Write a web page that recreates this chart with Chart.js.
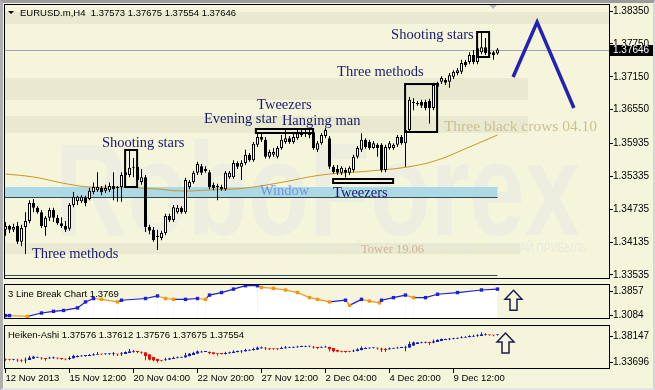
<!DOCTYPE html>
<html>
<head>
<meta charset="utf-8">
<title>EURUSD.m H4</title>
<script src="https://cdn.jsdelivr.net/npm/chart.js@4.4.1/dist/chart.umd.min.js"></script>
<style>
  html, body { margin: 0; padding: 0; background: #f5f5dc; }
  #wrap { position: relative; width: 655px; height: 390px; overflow: hidden; background: #f5f5dc; }
  #wrap canvas { position: absolute; left: 0; }
  #main { top: 0; }
  #lbreak { top: 280px; }
  #heiken { top: 324px; }
  #edge { position: absolute; inset: 0; border-top: 3px solid #9c9c9c; border-left: 3px solid #b0b0b0;
          border-right: 2px solid #d6d6d6; border-bottom: 2px solid #e4e4e4; pointer-events: none; }
</style>
</head>
<body>
<div id="wrap">
  <canvas id="main" width="655" height="281"></canvas>
  <canvas id="lbreak" width="655" height="43"></canvas>
  <canvas id="heiken" width="655" height="66"></canvas>
  <div id="edge"></div>
</div>
<script>
// ===== Data (H4 bars, oldest first)
const opens = [
  1.3436,1.3443,1.3436,1.3443,1.3414,1.3441,1.3452,1.3485,1.3476,1.3468,
  1.3441,1.3458,1.3472,1.3458,1.3448,1.3443,1.3438,1.3481,1.3488,1.3488,
  1.3494,1.3492,1.3505,1.3508,1.3512,1.3507,1.3508,1.3516,1.3512,1.3514,
  1.3536,1.3536,1.3549,1.3551,1.3523,1.3532,1.3441,1.3436,1.3425,1.3421,
  1.3430,1.3461,1.3454,1.3468,1.3476,1.3468,1.3514,1.3523,1.3540,1.3552,
  1.3547,1.3541,1.3518,1.3514,1.3514,1.3510,1.3532,1.3532,1.3558,1.3551,
  1.3558,1.3573,1.3563,1.3591,1.3605,1.3600,1.3569,1.3573,1.3569,1.3585,
  1.3596,1.3603,1.3596,1.3603,1.3609,1.3614,1.3609,1.3614,1.3582,1.3594,
  1.3607,1.3603,1.3551,1.3547,1.3540,1.3545,1.3540,1.3545,1.3569,1.3582,
  1.3600,1.3596,1.3585,1.3591,1.3591,1.3545,1.3585,1.3585,1.3591,1.3605,
  1.3594,1.3618,1.3667,1.3665,1.3669,1.3669,1.3671,1.3658,1.3704,1.3706,
  1.3709,1.3706,1.3715,1.3722,1.3724,1.3742,1.3742,1.3755,1.3742,1.3760,
  1.3769,1.3760,1.3760,1.37573
];
const highs = [
  1.3450,1.3445,1.3447,1.3450,1.3445,1.3468,1.3490,1.3492,1.3479,1.3472,
  1.3461,1.3476,1.3476,1.3463,1.3459,1.3452,1.3485,1.3505,1.3498,1.3499,
  1.3498,1.3512,1.3522,1.3541,1.3516,1.3518,1.3522,1.3541,1.3516,1.3541,
  1.3545,1.3580,1.3567,1.3554,1.3547,1.3536,1.3445,1.3441,1.3436,1.3434,
  1.3465,1.3465,1.3481,1.3481,1.3479,1.3531,1.3527,1.3543,1.3560,1.3556,
  1.3552,1.3545,1.3522,1.3520,1.3518,1.3543,1.3543,1.3563,1.3561,1.3563,
  1.3582,1.3576,1.3596,1.3611,1.3612,1.3605,1.3582,1.3585,1.3589,1.3609,
  1.3618,1.3607,1.3611,1.3620,1.3620,1.3620,1.3618,1.3618,1.3598,1.3612,
  1.3622,1.3607,1.3554,1.3554,1.3552,1.3549,1.3552,1.3573,1.3589,1.3612,
  1.3603,1.3600,1.3598,1.3594,1.3594,1.3591,1.3598,1.3594,1.3609,1.3609,
  1.3622,1.3678,1.3676,1.3671,1.3673,1.3673,1.3675,1.3704,1.3706,1.3716,
  1.3713,1.3722,1.3727,1.3731,1.3746,1.3746,1.3760,1.3764,1.3771,1.3798,
  1.3786,1.3762,1.3762,1.37675
];
const lows = [
  1.3425,1.3430,1.3432,1.3410,1.3406,1.3392,1.3448,1.3468,1.3465,1.3439,
  1.3425,1.3452,1.3450,1.3445,1.3439,1.3432,1.3434,1.3477,1.3481,1.3485,
  1.3479,1.3490,1.3501,1.3505,1.3499,1.3503,1.3505,1.3490,1.3487,1.3487,
  1.3532,1.3532,1.3532,1.3523,1.3518,1.3432,1.3428,1.3414,1.3399,1.3417,
  1.3426,1.3450,1.3450,1.3465,1.3465,1.3465,1.3510,1.3520,1.3536,1.3536,
  1.3540,1.3510,1.3508,1.3490,1.3507,1.3507,1.3529,1.3529,1.3547,1.3527,
  1.3554,1.3560,1.3560,1.3587,1.3596,1.3566,1.3566,1.3569,1.3566,1.3582,
  1.3593,1.3593,1.3593,1.3600,1.3605,1.3605,1.3603,1.3582,1.3578,1.3591,
  1.3603,1.3547,1.3538,1.3536,1.3536,1.3531,1.3536,1.3541,1.3566,1.3578,
  1.3584,1.3582,1.3584,1.3569,1.3541,1.3541,1.3582,1.3582,1.3587,1.3591,
  1.3551,1.3614,1.3654,1.3662,1.3658,1.3654,1.3630,1.3654,1.3693,1.3702,
  1.3700,1.3695,1.3711,1.3718,1.3720,1.3733,1.3738,1.3738,1.3738,1.3756,
  1.3755,1.3753,1.3746,1.37554
];
const closes = [
  1.3443,1.3436,1.3441,1.3414,1.3439,1.3452,1.3485,1.3476,1.3468,1.3443,
  1.3458,1.3472,1.3458,1.3448,1.3443,1.3436,1.3481,1.3496,1.3496,1.3496,
  1.3485,1.3507,1.3514,1.3514,1.3505,1.3512,1.3516,1.3510,1.3512,1.3536,
  1.3541,1.3549,1.3551,1.3527,1.3532,1.3441,1.3434,1.3417,1.3423,1.3430,
  1.3461,1.3454,1.3477,1.3476,1.3468,1.3527,1.3523,1.3540,1.3556,1.3540,
  1.3543,1.3514,1.3512,1.3514,1.3510,1.3540,1.3540,1.3558,1.3551,1.3558,
  1.3573,1.3563,1.3593,1.3605,1.3600,1.3569,1.3578,1.3578,1.3585,1.3600,
  1.3603,1.3596,1.3605,1.3612,1.3614,1.3611,1.3614,1.3585,1.3594,1.3609,
  1.3618,1.3551,1.3541,1.3540,1.3549,1.3540,1.3549,1.3569,1.3585,1.3600,
  1.3587,1.3585,1.3594,1.3585,1.3545,1.3587,1.3594,1.3591,1.3605,1.3594,
  1.3618,1.3673,1.3669,1.3667,1.3662,1.3658,1.3658,1.3700,1.3697,1.3713,
  1.3704,1.3718,1.3724,1.3727,1.3740,1.3736,1.3755,1.3742,1.3767,1.3769,
  1.3758,1.3756,1.3755,1.37646
];

// price axis + time axis
const priceTicks = [1.38350, 1.37750, 1.37150, 1.36550, 1.35935, 1.35335, 1.34735, 1.34135, 1.33535];
const dateTickIdx = [0, 16, 32, 48, 64, 80, 96, 112];
const dateTickLabels = ['12 Nov 2013', '15 Nov 12:00', '20 Nov 04:00', '22 Nov 20:00',
                        '27 Nov 12:00', '2 Dec 04:00', '4 Dec 20:00', '9 Dec 12:00'];

// moving average (sampled along the curve)
const maIdx = [0, 7, 15.5, 21, 28, 38, 44, 50.5, 57, 62, 69.5, 79, 91, 100.5, 108, 116, 123];
const maVal = [1.35377, 1.35322, 1.35195, 1.35140, 1.35140, 1.35103, 1.35067, 1.35085, 1.35103,
               1.35140, 1.35231, 1.35359, 1.35432, 1.35505, 1.35632, 1.35870, 1.36089];

// forecast zigzag
const zigIdx = [126.9, 132.9, 142.1];
const zigVal = [1.37146, 1.38149, 1.36581];

// 3 Line Break sub-window
const lbIdx = [0, 1, 5.5, 9, 12, 14.5, 18, 20, 22, 24, 28, 29, 35, 38, 40, 42, 45, 48, 50, 51,
               54, 57, 60, 63, 64, 67, 70, 73, 76, 78, 81, 85, 86, 89, 91, 93.5, 94, 97, 100, 102,
               105, 108, 113, 119, 123];
const lbVal = [1.3084, 1.3084, 1.3057, 1.3167, 1.3222, 1.3250, 1.3332, 1.3526, 1.3636, 1.3609,
               1.3526, 1.3581, 1.3636, 1.3719, 1.3636, 1.3609, 1.3609, 1.3636, 1.3609, 1.3747,
               1.3829, 1.3940, 1.4050, 1.4050, 1.3995, 1.3967, 1.3912, 1.3829, 1.3664, 1.3609,
               1.3526, 1.3581, 1.3415, 1.3609, 1.3553, 1.3498, 1.3581, 1.3664, 1.3747, 1.3664,
               1.3664, 1.3774, 1.3829, 1.3912, 1.3940];
const lbTicks = [1.3857, 1.3084];
const haTicks = [1.38147, 1.33696];

// ===== Annotations (bar index / price)
const shadeZones = [[1.38332, 1.38113, 151], [1.37128, 1.36726, 130.6],
                    [1.36435, 1.36125, 130.6], [1.34118, 1.33917, 128.6]];
const windowZone = [1.35140, 1.34958, 123];
const floorLines = [1.33526, 1.33489];
const patternBoxes = [
  [29.9, 32.9, 1.35815, 1.35140],
  [62.6, 76.9, 1.36198, 1.36125],
  [81.9, 96.9, 1.35286, 1.35213],
  [99.9, 107.9, 1.37018, 1.36143],
  [117.9, 120.9, 1.37967, 1.37511]
];
const notes = [
  ['Shooting stars', 24.1, 1.35869, 'pattern'],
  ['Three methods', 6.6, 1.33845, 'pattern'],
  ['Evening star', 49.6, 1.36307, 'pattern'],
  ['Tweezers', 62.9, 1.36562, 'pattern'],
  ['Hanging man', 69.1, 1.36271, 'pattern'],
  ['Three methods', 82.9, 1.37164, 'pattern'],
  ['Shooting stars', 96.4, 1.37839, 'pattern'],
  ['Tweezers', 81.9, 1.34957, 'pattern'],
  ['Window', 63.6, 1.34994, 'window'],
  ['Three black crows 04.10', 109.6, 1.36161, 'old'],
  ['Tower 19.06', 88.9, 1.33936, 'tower']
];

// ===== Look
const X_MIN = -0.375, X_MAX = 151.125;
const UI_FONT = '"Liberation Sans", Arial, sans-serif';
const NOTE_FONT = '"Liberation Serif", "Times New Roman", serif';
const noteStyle = {
  pattern: ['14.5px ' + NOTE_FONT, '#191970'],
  window:  ['14.5px ' + NOTE_FONT, '#6f93e0'],
  old:     ['15.5px ' + NOTE_FONT, '#cbc190'],
  tower:   ['12.5px ' + NOTE_FONT, '#d2b494']
};
const LB_UP = '#1e1ed2', LB_DOWN = '#f0961e';
const HA_UP = '#1818d0', HA_DOWN = '#ff0000';
const last = closes.length - 1;
const bars = closes.map((_, i) => i);

Chart.defaults.font.family = UI_FONT;
Chart.defaults.font.size = 10;
Chart.defaults.color = '#000';

// Heiken-Ashi indicator from the bars above
function heikenAshi() {
  const o = [], h = [], l = [], c = [];
  bars.forEach(i => {
    c[i] = (opens[i] + highs[i] + lows[i] + closes[i]) / 4;
    o[i] = i === 0 ? (opens[0] + closes[0]) / 2 : (o[i - 1] + c[i - 1]) / 2;
    h[i] = Math.max(highs[i], o[i], c[i]);
    l[i] = Math.min(lows[i], o[i], c[i]);
  });
  return { o, h, l, c };
}

function candleDatasets(o, h, l, c, upFill, downFill, upLine, downLine) {
  const up = i => c[i] >= o[i];
  return [
    { type: 'bar', data: bars.map(i => ({ x: i, y: [l[i], h[i]] })),
      backgroundColor: bars.map(i => up(i) ? upLine : downLine),
      barThickness: 1, grouped: false, inflateAmount: 0, order: 3 },
    { type: 'bar', data: bars.map(i => ({ x: i, y: [o[i], c[i]] })),
      backgroundColor: bars.map(i => up(i) ? upFill : downFill),
      borderColor: bars.map(i => up(i) ? upLine : downLine),
      borderWidth: 1, borderSkipped: false, minBarLength: 1,
      barThickness: 3, grouped: false, inflateAmount: 0, order: 2 }
  ];
}

function priceAxis(min, max, ticks, digits, extra) {
  return Object.assign({
    position: 'right', min, max,
    afterFit: s => { s.width = 45; s.paddingTop = 0; s.paddingBottom = 0; },
    afterBuildTicks: s => { s.ticks = ticks.map(v => ({ value: v })); },
    ticks: { callback: v => v.toFixed(digits), padding: 0, autoSkip: false, font: { size: 10 } },
    grid: { drawOnChartArea: false, tickLength: 3, color: '#000' },
    border: { display: false }
  }, extra || {});
}

function hiddenX() {
  return { type: 'linear', min: X_MIN, max: X_MAX, offset: false, display: false };
}

const frame = {
  id: 'frame',
  afterDraw(chart) {
    const { ctx, chartArea: a } = chart;
    ctx.save();
    ctx.strokeStyle = '#000';
    ctx.lineWidth = 1;
    ctx.strokeRect(a.left + 0.5, a.top + 0.5, a.right - a.left - 1, a.bottom - a.top - 1);
    ctx.restore();
  }
};

function upArrow(ctx, cx, cy) {
  ctx.save();
  ctx.beginPath();
  ctx.moveTo(cx, cy - 10);
  ctx.lineTo(cx + 8.5, cy - 1);
  ctx.lineTo(cx + 3.5, cy - 1);
  ctx.lineTo(cx + 3.5, cy + 10);
  ctx.lineTo(cx - 3.5, cy + 10);
  ctx.lineTo(cx - 3.5, cy - 1);
  ctx.lineTo(cx - 8.5, cy - 1);
  ctx.closePath();
  ctx.strokeStyle = '#1c1c50';
  ctx.lineWidth = 1.5;
  ctx.stroke();
  ctx.restore();
}

function panelTitle(text) {
  return {
    id: 'panelTitle',
    afterDraw(chart) {
      const { ctx, chartArea: a } = chart;
      ctx.save();
      ctx.font = '9.5px ' + UI_FONT;
      ctx.fillStyle = '#000';
      ctx.textBaseline = 'middle';
      ctx.fillText(text, a.left + 4, a.top + 10.5);
      ctx.restore();
    }
  };
}

// ===== Main window decorations
const mainDecor = {
  id: 'mainDecor',
  beforeDatasetsDraw(chart) {
    const { ctx, chartArea: a, scales: { x, y } } = chart;
    ctx.save();
    ctx.beginPath();
    ctx.rect(a.left, a.top, a.right - a.left, a.bottom - a.top);
    ctx.clip();

    ctx.fillStyle = '#e9e9cf';
    shadeZones.forEach(([hi, lo, end]) => {
      const t = y.getPixelForValue(hi), b = y.getPixelForValue(lo);
      ctx.fillRect(a.left, t, Math.min(x.getPixelForValue(end), a.right) - a.left, b - t);
    });

    // watermark
    ctx.fillStyle = '#eeeee0';
    ctx.textBaseline = 'alphabetic';
    ctx.font = 'bold 132px ' + UI_FONT;
    let w = ctx.measureText('RoboForex').width;
    ctx.save();
    ctx.translate(a.left + 51, a.top + 231);
    ctx.scale(525 / w, 1);
    ctx.fillText('RoboForex', 0, 0);
    ctx.restore();
    ctx.fillStyle = '#e8e8dc';
    ctx.font = '12.5px ' + UI_FONT;
    const motto = 'ИСПОЛЬЗУЙ СОВЕТЫ ЭКСПЕРТОВ – ПОЛУЧАЙ ПРИБЫЛЬ';
    w = ctx.measureText(motto).width;
    ctx.save();
    ctx.translate(a.left + 296, a.top + 248);
    ctx.scale(287 / w, 1);
    ctx.fillText(motto, 0, 0);
    ctx.restore();

    // window band
    const [wHi, wLo, wEnd] = windowZone;
    const xr = x.getPixelForValue(wEnd);
    const wt = y.getPixelForValue(wHi), wb = y.getPixelForValue(wLo);
    ctx.fillStyle = '#add8e6';
    ctx.fillRect(a.left, wt, xr - a.left, wb - wt);
    ctx.strokeStyle = '#2f4f4f';
    ctx.lineWidth = 1;
    ctx.beginPath();
    ctx.moveTo(a.left, Math.round(wb) + 0.5);
    ctx.lineTo(xr, Math.round(wb) + 0.5);
    floorLines.forEach(p => {
      const py = Math.round(y.getPixelForValue(p)) + 0.5;
      ctx.moveTo(a.left, py);
      ctx.lineTo(xr, py);
    });
    ctx.stroke();

    // bid line
    const py = Math.round(y.getPixelForValue(closes[last])) + 0.5;
    ctx.strokeStyle = '#a4a4b8';
    ctx.beginPath();
    ctx.moveTo(a.left, py);
    ctx.lineTo(a.right, py);
    ctx.stroke();
    ctx.restore();
  },
  afterDatasetsDraw(chart) {
    const { ctx, scales: { x, y } } = chart;
    ctx.save();
    ctx.strokeStyle = '#000';
    ctx.lineWidth = 2;
    patternBoxes.forEach(([i0, i1, hi, lo]) => {
      const l = x.getPixelForValue(i0), r = x.getPixelForValue(i1);
      const t = y.getPixelForValue(hi), b = y.getPixelForValue(lo);
      ctx.strokeRect(l, t, r - l, b - t);
    });
    ctx.textBaseline = 'alphabetic';
    notes.forEach(([text, i, p, kind]) => {
      const [font, color] = noteStyle[kind];
      ctx.font = font;
      ctx.fillStyle = color;
      ctx.fillText(text, x.getPixelForValue(i), y.getPixelForValue(p));
    });
    ctx.restore();
  },
  afterDraw(chart) {
    const { ctx, chartArea: a, scales: { y } } = chart;
    ctx.save();
    // current price tag
    const py = y.getPixelForValue(closes[last]);
    ctx.fillStyle = '#000';
    ctx.fillRect(a.right, Math.round(py) - 5, 44, 11);
    ctx.fillStyle = '#fff';
    ctx.font = '10px ' + UI_FONT;
    ctx.textBaseline = 'middle';
    ctx.fillText(closes[last].toFixed(5), a.right + 3, Math.round(py) + 0.5);
    // symbol line
    ctx.fillStyle = '#000';
    ctx.beginPath();
    ctx.moveTo(a.left + 4, a.top + 7);
    ctx.lineTo(a.left + 10, a.top + 7);
    ctx.lineTo(a.left + 7, a.top + 10);
    ctx.closePath();
    ctx.fill();
    ctx.font = '9.5px ' + UI_FONT;
    const ohlc = [opens, highs, lows, closes].map(s => s[last].toFixed(5)).join(' ');
    ctx.fillText('EURUSD.m,H4  ' + ohlc, a.left + 16, a.top + 9);
    // chart shift marker
    ctx.fillStyle = '#b8b8b8';
    ctx.beginPath();
    ctx.moveTo(488, a.top);
    ctx.lineTo(498, a.top);
    ctx.lineTo(493, a.top + 5);
    ctx.closePath();
    ctx.fill();
    ctx.restore();
  }
};

// ===== Main chart
new Chart(document.getElementById('main'), {
  type: 'bar',
  data: {
    datasets: [
      { type: 'line', data: maIdx.map((v, k) => ({ x: v, y: maVal[k] })),
        borderColor: '#c8961e', borderWidth: 1, pointRadius: 0, tension: 0.4, order: 4 },
      ...candleDatasets(opens, highs, lows, closes, '#ffffff', '#000000', '#000000', '#000000'),
      { type: 'line', data: zigIdx.map((v, k) => ({ x: v, y: zigVal[k] })),
        borderColor: '#2222b4', borderWidth: 3.5, pointRadius: 0, tension: 0, order: 1 }
    ]
  },
  options: {
    responsive: false, animation: false, devicePixelRatio: 1,
    layout: { padding: { left: 4, top: 4, bottom: 2, right: 0 } },
    plugins: { legend: { display: false }, tooltip: { enabled: false } },
    scales: {
      x: hiddenX(),
      y: priceAxis(1.33462, 1.38478, priceTicks, 5)
    }
  },
  plugins: [mainDecor, frame]
});

// ===== 3 Line Break sub-window
new Chart(document.getElementById('lbreak'), {
  type: 'line',
  data: {
    datasets: [{
      data: lbIdx.map((v, k) => ({ x: v, y: lbVal[k] })),
      fill: 'start', backgroundColor: '#ffffff',
      borderColor: LB_UP, borderWidth: 1.2, tension: 0,
      segment: { borderColor: s => s.p1.parsed.y < s.p0.parsed.y ? LB_DOWN : LB_UP },
      pointStyle: 'rect', pointRadius: 2.4, pointBorderWidth: 0,
      pointBackgroundColor: c => (c.dataIndex > 0 && lbVal[c.dataIndex] < lbVal[c.dataIndex - 1]) ? LB_DOWN : LB_UP
    }]
  },
  options: {
    responsive: false, animation: false, devicePixelRatio: 1,
    layout: { padding: { left: 4, top: 1, bottom: 1, right: 0 } },
    plugins: { legend: { display: false }, tooltip: { enabled: false } },
    scales: {
      x: hiddenX(),
      y: priceAxis(1.29736, 1.41055, lbTicks, 4)
    }
  },
  plugins: [frame, panelTitle('3 Line Break Chart 1.3769'), {
    id: 'lbArrow',
    afterDraw(chart) {
      const { x, y } = chart.scales;
      upArrow(chart.ctx, x.getPixelForValue(127), y.getPixelForValue(1.3581));
    }
  }]
});

// ===== Heiken-Ashi sub-window + time axis
const ha = heikenAshi();
new Chart(document.getElementById('heiken'), {
  type: 'bar',
  data: { datasets: candleDatasets(ha.o, ha.h, ha.l, ha.c, HA_UP, HA_DOWN, HA_UP, HA_DOWN) },
  options: {
    responsive: false, animation: false, devicePixelRatio: 1,
    layout: { padding: { left: 4, top: 1, bottom: 0, right: 0 } },
    plugins: { legend: { display: false }, tooltip: { enabled: false } },
    scales: {
      x: {
        type: 'linear', min: X_MIN, max: X_MAX, offset: false, position: 'bottom',
        afterBuildTicks: s => { s.ticks = dateTickIdx.map(v => ({ value: v })); },
        afterFit: s => { s.height = 21; s.paddingLeft = 0; s.paddingRight = 0; },
        ticks: { callback: (v, k) => dateTickLabels[k], autoSkip: false, maxRotation: 0, minRotation: 0,
                 align: 'start', padding: 0, font: { size: 9.5 } },
        grid: { drawOnChartArea: false, tickLength: 4, color: '#000', offset: false },
        border: { display: false }
      },
      y: { min: 1.33172, max: 1.38932, display: false },
      yl: priceAxis(1.32498, 1.40030, haTicks, 5)
    }
  },
  plugins: [frame, panelTitle('Heiken-Ashi 1.37576 1.37612 1.37576 1.37675 1.37554'), {
    id: 'haArrow',
    afterDraw(chart) {
      const { x, y } = chart.scales;
      upArrow(chart.ctx, x.getPixelForValue(125), y.getPixelForValue(1.36568));
    }
  }]
});
</script>
</body>
</html>
